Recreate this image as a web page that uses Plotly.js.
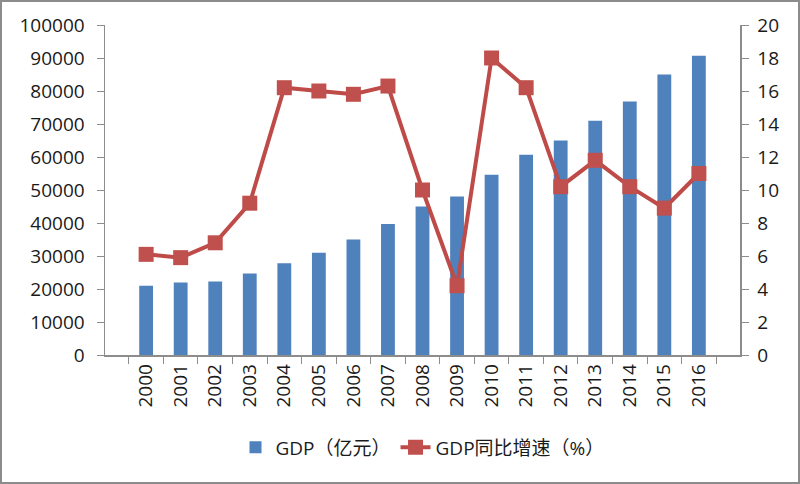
<!DOCTYPE html>
<html><head><meta charset="utf-8">
<script src="https://cdn.plot.ly/plotly-3.0.1.min.js"></script>
<style>
html,body{margin:0;padding:0;background:#fff;}
#wrap{width:800px;height:484px;box-sizing:border-box;border:2px solid #8c8c8c;}
#chart{width:796px;height:480px;}
</style></head>
<body><div id="wrap"><div id="chart"></div></div>
<script>
const years = ['2000','2001','2002','2003','2004','2005','2006','2007','2008','2009','2010','2011','2012','2013','2014','2015','2016'];
const gdp = [21000,22000,22300,24700,27800,31000,35000,39700,45000,48000,54600,60700,65000,71000,76800,85000,90700];
const growth = [6.1,5.9,6.8,9.2,16.2,16.0,15.8,16.3,10.0,4.2,18.0,16.2,10.2,11.8,10.2,8.9,11.0];
const gdpName = 'GDP（亿元）';
const growthName = 'GDP同比增速（%）';

const font = '"Open Sans", "Noto Sans CJK SC", sans-serif';
const traces = [
  {type:'bar', x:years, y:gdp, name:gdpName, marker:{color:'#4F81BD'}, yaxis:'y'},
  {type:'scatter', mode:'lines+markers', x:years, y:growth, name:growthName, yaxis:'y2',
   line:{color:'#BE4B48', width:4}, marker:{symbol:'square', size:15, color:'#C0504D'}}
];
const layout = {
  width:796, height:480,
  margin:{l:103, r:58, t:23, b:127},
  paper_bgcolor:'#fff', plot_bgcolor:'#fff',
  font:{family:font, size:19, color:'#1a1a1a'},
  bargap:0.6,
  showlegend:true,
  legend:{orientation:'h', x:0.5, xanchor:'center', y:-0.28, yanchor:'middle', font:{size:19}, traceorder:'normal'},
  xaxis:{type:'category', tickangle:-90, showline:true, linecolor:'#8c8c8c', linewidth:1.5, automargin:false,
         ticks:'outside', tickson:'boundaries', ticklen:7, tickcolor:'#8c8c8c', showgrid:false, tickfont:{size:19}},
  yaxis:{range:[0,100000], dtick:10000, showline:true, linecolor:'#8c8c8c', linewidth:1.5, ticks:'outside', ticklen:7,
         tickcolor:'#8c8c8c', showgrid:false, zeroline:false, tickformat:'d', tickfont:{size:19}, ticklabelstandoff:8, automargin:false},
  yaxis2:{range:[0,20], dtick:2, overlaying:'y', side:'right', showline:true, linecolor:'#8c8c8c', linewidth:1.5,
          ticks:'outside', ticklen:7, tickcolor:'#8c8c8c', showgrid:false, zeroline:false, tickfont:{size:19}, ticklabelstandoff:5, automargin:false}
};
Plotly.newPlot('chart', traces, layout, {displayModeBar:false, staticPlot:true});
</script></body></html>
